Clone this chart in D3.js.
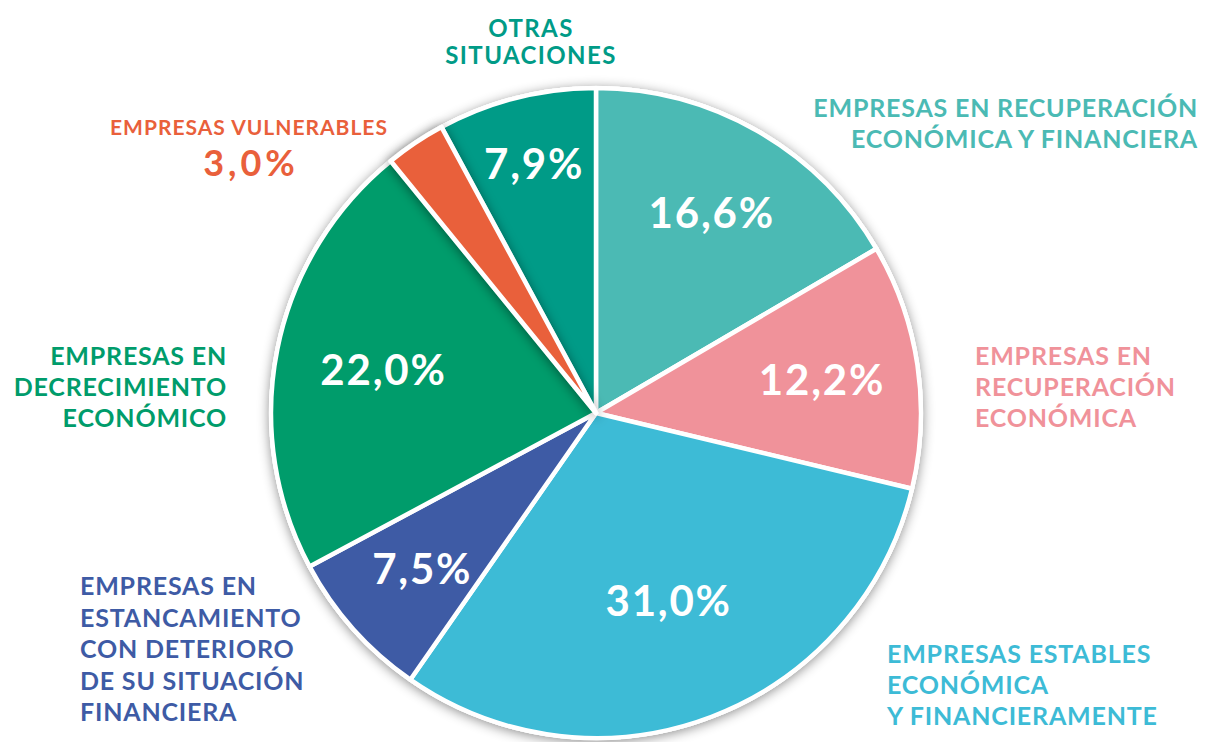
<!DOCTYPE html>
<html>
<head>
<meta charset="utf-8">
<script src="https://cdn.jsdelivr.net/npm/d3@7"></script>
<style>
  body { margin: 0; background: #fff; }
  svg { display: block; font-family: Lato, "Open Sans", sans-serif; font-weight: 700; }
</style>
</head>
<body>
<div id="chart"></div>
<script>
// Situación de las empresas (% del total)
const categories = [
    ["EMPRESAS EN RECUPERACIÓN", "ECONÓMICA Y FINANCIERA"],
    ["EMPRESAS EN", "RECUPERACIÓN", "ECONÓMICA"],
    ["EMPRESAS ESTABLES", "ECONÓMICA", "Y FINANCIERAMENTE"],
    ["EMPRESAS EN", "ESTANCAMIENTO", "CON DETERIORO", "DE SU SITUACIÓN", "FINANCIERA"],
    ["EMPRESAS EN", "DECRECIMIENTO", "ECONÓMICO"],
    ["EMPRESAS VULNERABLES"],
    ["OTRAS", "SITUACIONES"]
];
const values = [16.6, 12.2, 31.0, 7.5, 22.0, 3.0, 7.9];
const colors = ["#4bbab4", "#f0929a", "#3dbbd6", "#3e5ba5", "#009c6b", "#e9603b", "#009b87"];

// layout of the labels (not data)
const outerLabels = [
    {x: 1198, y: 117, anchor: "end", size: 25, lh: 31, ls: 0.8},
    {x: 975, y: 365, anchor: "start", size: 25, lh: 31, ls: 0.8},
    {x: 887, y: 663, anchor: "start", size: 25, lh: 31, ls: 0.8},
    {x: 80, y: 595, anchor: "start", size: 25, lh: 31.5, ls: 0.8},
    {x: 227, y: 365, anchor: "end", size: 25, lh: 31, ls: 0.8},
    {x: 249, y: 135, anchor: "middle", size: 21, lh: 0, ls: 1},
    {x: 531, y: 37, anchor: "middle", size: 24, lh: 26.5, ls: 1.4}
];
const innerRadius = [0.71, 0.70, 0.62, 0.72, 0.67, null, 0.79];

const width = 1208, height = 742;
const cx = 596, cy = 413, R = 325;

const svg = d3.select("#chart").append("svg")
    .attr("width", width)
    .attr("height", height);

const defs = svg.append("defs");
const shadow = defs.append("filter").attr("id", "shadow")
    .attr("x", "-20%").attr("y", "-20%").attr("width", "140%").attr("height", "140%");
shadow.append("feDropShadow")
    .attr("dx", 0).attr("dy", 2)
    .attr("stdDeviation", 6)
    .attr("flood-color", "#000")
    .attr("flood-opacity", 0.45);

const pie = d3.pie().sort(null).value(d => d);
const arcs = pie(values);
const arc = d3.arc().innerRadius(0).outerRadius(R);

const g = svg.append("g").attr("transform", `translate(${cx},${cy})`);

// whole pie shadow
g.append("circle").attr("r", R + 2).attr("fill", "#fff").attr("filter", "url(#shadow)");

// draw the small orange slice last so its shadow falls on neighbours
const drawOrder = arcs.map((a, i) => i).sort((a, b) => (a === 5) - (b === 5));
g.selectAll("path.slice")
    .data(drawOrder.map(i => arcs[i]))
    .join("path")
    .attr("class", "slice")
    .attr("d", arc)
    .attr("fill", d => colors[d.index])
    .attr("stroke", "#fff")
    .attr("stroke-width", 4.5)
    .attr("stroke-linejoin", "round")
    .attr("filter", d => d.index === 5 ? "url(#shadow)" : null);

const fmt = v => d3.format(".1f")(v).replace(".", ",") + "%";

// values inside the slices
arcs.forEach((a, i) => {
    if (innerRadius[i] === null) return;
    const r = R * innerRadius[i];
    const c = d3.arc().innerRadius(r).outerRadius(r).centroid(a);
    g.append("text")
        .attr("x", c[0] + 1).attr("y", c[1])
        .attr("dy", "0.36em")
        .attr("text-anchor", "middle")
        .attr("fill", "#fff")
        .attr("font-size", 42)
        .attr("letter-spacing", 1.8)
        .text(fmt(values[i]));
});

// category labels around the pie
categories.forEach((lines, i) => {
    const L = outerLabels[i];
    const t = svg.append("text")
        .attr("text-anchor", L.anchor)
        .attr("fill", colors[i])
        .attr("font-size", L.size)
        .attr("letter-spacing", L.ls);
    lines.forEach((s, k) => {
        t.append("tspan").attr("x", L.x).attr("y", L.y + k * L.lh).text(s);
    });
});

// vulnerable value sits outside under its name
svg.append("text")
    .attr("x", outerLabels[5].x + 2).attr("y", 176)
    .attr("text-anchor", "middle")
    .attr("fill", colors[5])
    .attr("font-size", 36)
    .attr("letter-spacing", 4)
    .text(fmt(values[5]));
</script>
</body>
</html>
